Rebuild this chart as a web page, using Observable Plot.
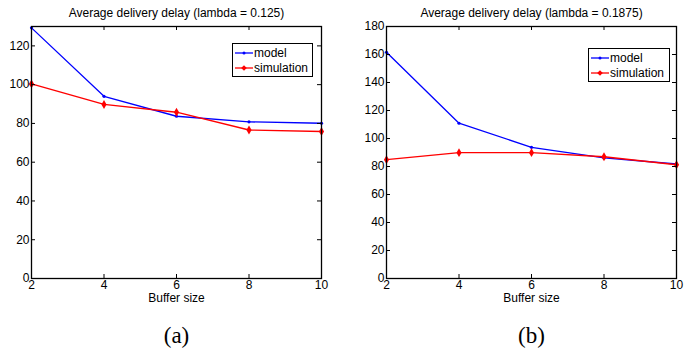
<!DOCTYPE html>
<html>
<head>
<meta charset="utf-8">
<script src="https://cdn.jsdelivr.net/npm/d3@7"></script>
<script src="https://cdn.jsdelivr.net/npm/@observablehq/plot@0.6"></script>
<style>
  body { margin: 0; background: #fff; }
  #row { display: flex; width: 694px; height: 348px; }
  .panel { position: relative; width: 347px; height: 348px; }
  .legend { position: absolute; border: 1px solid #000; background: #fff; box-sizing: border-box;
            font: 12px "Liberation Sans", Arial, sans-serif; color: #000; }
  .legend .r { position: absolute; left: 2px; height: 14px; display: flex; align-items: center; }
  .legend svg { display: block; }
  .legend span { margin-left: 1px; }
</style>
</head>
<body>
<div id="row"></div>
<script>
const bufferSizes = [2, 4, 6, 8, 10];
const xTicks = [2, 4, 6, 8, 10];

const titleA = "Average delivery delay (lambda = 0.125)";
const modelA = [129.3, 94.0, 83.7, 80.8, 80.1];
const simA = [100.4, 89.8, 85.8, 76.6, 75.8];
const yTicksA = [0, 20, 40, 60, 80, 100, 120];
const yMaxA = 130;

const titleB = "Average delivery delay (lambda = 0.1875)";
const modelB = [161.6, 110.9, 93.7, 86.1, 81.8];
const simB = [84.9, 89.9, 89.9, 87.0, 81.3];
const yTicksB = [0, 20, 40, 60, 80, 100, 120, 140, 160, 180];
const yMaxB = 180;

const seriesNames = ["model", "simulation"];
const xLabel = "Buffer size";
const captions = ["(a)", "(b)"];

const BLUE = "#0000ff", RED = "#ff0000";
const FONT = "'Liberation Sans', Arial, sans-serif";

function panel({title, caption, model, sim, yTicks, yMax, mL, mR, legendPos}) {
  const W = 347, H = 348, mT = 26, mB = 70;
  const fw = W - mL - mR, fh = H - mT - mB;
  const rows = (vals, s) => bufferSizes.map((x, i) => ({x, y: vals[i], s}));
  const m = rows(model, "model"), s = rows(sim, "simulation");
  const TK = 4;
  const plot = Plot.plot({
    width: W, height: H,
    marginLeft: mL, marginRight: mR, marginTop: mT, marginBottom: mB,
    style: {fontFamily: FONT, fontSize: "12px", color: "#000", background: "#fff"},
    x: {domain: [2, 10]},
    y: {domain: [0, yMax]},
    marks: [
      Plot.line(m, {x: "x", y: "y", stroke: BLUE, strokeWidth: 1.3}),
      Plot.dot(m, {x: "x", y: "y", r: 1.6, fill: BLUE, stroke: null}),
      Plot.line(s, {x: "x", y: "y", stroke: RED, strokeWidth: 1.4}),
      Plot.dot(s, {x: "x", y: "y", r: 2.7, symbol: "diamond", fill: RED, stroke: null}),
      Plot.tickY(yTicks, {y: d => d, insetRight: fw - TK, stroke: "#000"}),
      Plot.tickY(yTicks, {y: d => d, insetLeft: fw - TK, stroke: "#000"}),
      Plot.tickX(xTicks, {x: d => d, insetTop: fh - TK, stroke: "#000"}),
      Plot.tickX(xTicks, {x: d => d, insetBottom: fh - TK, stroke: "#000"}),
      Plot.frame({stroke: "#000", strokeWidth: 1.3}),
      Plot.axisY(yTicks, {tickSize: 0, tickPadding: 2, fontSize: 12, label: null}),
      Plot.axisX(xTicks, {tickSize: 0, tickPadding: 2, fontSize: 12, label: null}),
      Plot.text([title], {text: d => d, frameAnchor: "top", dy: -13, lineAnchor: "middle", fontSize: 12}),
      Plot.text([xLabel], {text: d => d, frameAnchor: "bottom", dy: 20, lineAnchor: "middle", fontSize: 12}),
      Plot.text([caption], {text: d => d, frameAnchor: "bottom", dy: 57, lineAnchor: "middle", fontSize: 23, fontFamily: "'Liberation Serif', 'Times New Roman', serif"})
    ]
  });
  const div = document.createElement("div");
  div.className = "panel";
  div.appendChild(plot);
  const lg = document.createElement("div");
  lg.className = "legend";
  Object.assign(lg.style, {left: legendPos[0] + "px", top: legendPos[1] + "px", width: legendPos[2] + "px", height: legendPos[3] + "px"});
  const mk = (name, color, diamond, top) => {
    const r = document.createElement("div");
    r.className = "r";
    r.style.top = top + "px";
    const marker = diamond
      ? `<path d="M9,4.2L11.8,7L9,9.8L6.2,7Z" fill="${color}"/>`
      : `<circle cx="9" cy="7" r="1.5" fill="${color}"/>`;
    r.innerHTML = `<svg width="18" height="14"><line x1="0" x2="18" y1="7" y2="7" stroke="${color}" stroke-width="1.3"/>${marker}</svg><span>${name}</span>`;
    lg.appendChild(r);
  };
  mk(seriesNames[0], BLUE, false, 2);
  mk(seriesNames[1], RED, true, 17);
  div.appendChild(lg);
  return div;
}

const rowEl = document.getElementById("row");
rowEl.appendChild(panel({title: titleA, caption: captions[0], model: modelA, sim: simA, yTicks: yTicksA, yMax: yMaxA, mL: 31, mR: 26, legendPos: [232, 43, 81, 34]}));
rowEl.appendChild(panel({title: titleB, caption: captions[1], model: modelB, sim: simB, yTicks: yTicksB, yMax: yMaxB, mL: 39, mR: 18, legendPos: [241, 48, 82, 34]}));
</script>
</body>
</html>
